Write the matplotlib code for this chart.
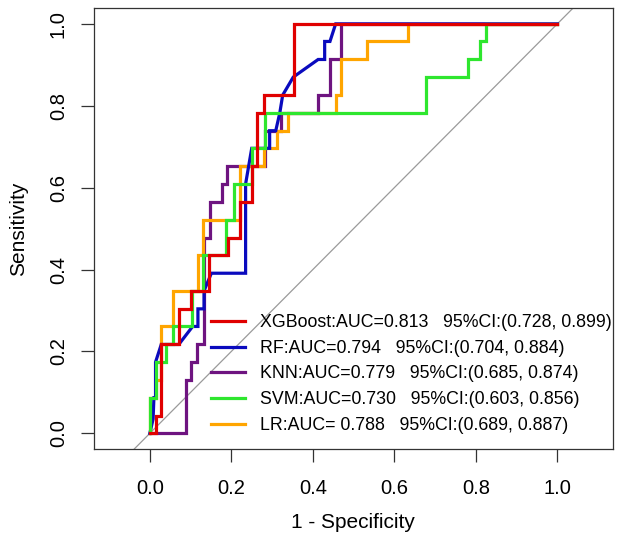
import matplotlib
matplotlib.use("Agg")
import matplotlib.pyplot as plt

plt.rcParams['font.family'] = ['Liberation Sans', 'DejaVu Sans']

# ---- data ----
models = ["XGBoost", "RF", "KNN", "SVM", "LR"]
labels = [
    "XGBoost:AUC=0.813   95%CI:(0.728, 0.899)",
    "RF:AUC=0.794   95%CI:(0.704, 0.884)",
    "KNN:AUC=0.779   95%CI:(0.685, 0.874)",
    "SVM:AUC=0.730   95%CI:(0.603, 0.856)",
    "LR:AUC= 0.788   95%CI:(0.689, 0.887)",
]
colors = ["#E00000", "#0A0ABE", "#6E1480", "#2EE62E", "#FFA500"]

xgb_fpr = [0, 0.014, 0.014, 0.028, 0.028, 0.072, 0.072, 0.101, 0.101, 0.146, 0.146, 0.192,
           0.192, 0.222, 0.222, 0.251, 0.251, 0.264, 0.264, 0.281, 0.281, 0.353, 0.353, 1.0]
xgb_tpr = [0, 0, 0.043, 0.043, 0.217, 0.217, 0.304, 0.304, 0.348, 0.348, 0.435, 0.435,
           0.478, 0.478, 0.565, 0.565, 0.652, 0.652, 0.783, 0.783, 0.826, 0.826, 1.0, 1.0]

rf_fpr = [0, 0.008, 0.010, 0.014, 0.014, 0.028, 0.071, 0.105, 0.118, 0.118, 0.133, 0.133,
          0.151, 0.235, 0.235, 0.250, 0.294, 0.294, 0.309, 0.319, 0.326, 0.352, 0.413,
          0.429, 0.429, 0.442, 0.456, 1.0]
rf_tpr = [0, 0.035, 0.087, 0.087, 0.174, 0.217, 0.217, 0.261, 0.261, 0.304, 0.304, 0.348,
          0.391, 0.391, 0.609, 0.696, 0.696, 0.739, 0.739, 0.783, 0.826, 0.870, 0.913,
          0.913, 0.957, 0.957, 1.0, 1.0]

knn_fpr = [0, 0.089, 0.089, 0.101, 0.101, 0.115, 0.115, 0.132, 0.132, 0.147, 0.147, 0.176,
           0.176, 0.189, 0.189, 0.282, 0.282, 0.323, 0.323, 0.412, 0.412, 0.442, 0.442,
           0.470, 0.470, 1.0]
knn_tpr = [0, 0, 0.130, 0.130, 0.174, 0.174, 0.217, 0.217, 0.478, 0.478, 0.565, 0.565,
           0.609, 0.609, 0.652, 0.652, 0.739, 0.739, 0.783, 0.783, 0.826, 0.826, 0.913,
           0.913, 1.0, 1.0]

svm_fpr = [0, 0, 0.014, 0.014, 0.040, 0.040, 0.058, 0.058, 0.104, 0.104, 0.131, 0.131,
           0.188, 0.188, 0.206, 0.206, 0.250, 0.250, 0.282, 0.282, 0.677, 0.677, 0.781,
           0.781, 0.810, 0.810, 0.826, 0.826, 1.0]
svm_tpr = [0, 0.087, 0.087, 0.174, 0.174, 0.217, 0.217, 0.261, 0.261, 0.348, 0.348, 0.435,
           0.435, 0.522, 0.522, 0.609, 0.609, 0.696, 0.696, 0.783, 0.783, 0.870, 0.870,
           0.913, 0.913, 0.957, 0.957, 1.0, 1.0]

lr_fpr = [0, 0, 0.014, 0.014, 0.028, 0.028, 0.058, 0.058, 0.118, 0.118, 0.131, 0.131,
          0.221, 0.221, 0.279, 0.279, 0.311, 0.311, 0.339, 0.339, 0.458, 0.458, 0.470,
          0.470, 0.532, 0.532, 0.634, 0.634, 1.0]
lr_tpr = [0, 0.087, 0.087, 0.130, 0.130, 0.261, 0.261, 0.348, 0.348, 0.435, 0.435, 0.522,
          0.522, 0.652, 0.652, 0.696, 0.696, 0.739, 0.739, 0.783, 0.783, 0.826, 0.826,
          0.913, 0.913, 0.957, 0.957, 1.0, 1.0]

x_ticks = [0.0, 0.2, 0.4, 0.6, 0.8, 1.0]
y_ticks = [0.0, 0.2, 0.4, 0.6, 0.8, 1.0]
tick_labels = ["0.0", "0.2", "0.4", "0.6", "0.8", "1.0"]

curves = [(xgb_fpr, xgb_tpr), (rf_fpr, rf_tpr), (knn_fpr, knn_tpr),
          (svm_fpr, svm_tpr), (lr_fpr, lr_tpr)]
zorders = [6, 4, 2, 5, 3]

# ---- figure ----
fig = plt.figure(figsize=(6.24, 5.49), dpi=100)
ax = fig.add_axes([0.150, 0.1816, 0.832, 0.8033])

ax.axline((0, 0), (1, 1), color="#9A9A9A", lw=0.9, zorder=1)

handles = []
for (fx, ty), c, lab, z in zip(curves, colors, labels, zorders):
    h, = ax.plot(fx, ty, color=c, lw=2.3, zorder=z, solid_joinstyle="miter",
                 label=lab)
    handles.append(h)

ax.set_xlim(-0.138, 1.136)
ax.set_ylim(-0.039, 1.038)

ax.set_xticks(x_ticks)
ax.set_xticklabels(tick_labels)
ax.set_yticks(y_ticks)
ax.set_yticklabels(tick_labels, rotation=90, va="center")
ax.tick_params(axis="both", direction="out", length=9.5, width=0.9, color="#333333",
               labelsize=14.5)
ax.tick_params(axis="x", pad=12)
ax.tick_params(axis="y", pad=9)

for s in ax.spines.values():
    s.set_linewidth(0.9)
    s.set_color("#333333")

ax.set_xlabel("1 - Specificity", fontsize=15, labelpad=11)
ax.set_ylabel("Sensitivity", fontsize=15, labelpad=15)

leg = ax.legend(handles=handles, loc="lower left", bbox_to_anchor=(0.227, 0.035),
                frameon=False, fontsize=12.8, handlelength=1.87, handletextpad=0.84,
                labelspacing=0.49, borderpad=0.0, borderaxespad=0.0)
for lh in leg.get_lines():
    lh.set_linewidth(2.3)

fig.savefig("out.png", dpi=100)
